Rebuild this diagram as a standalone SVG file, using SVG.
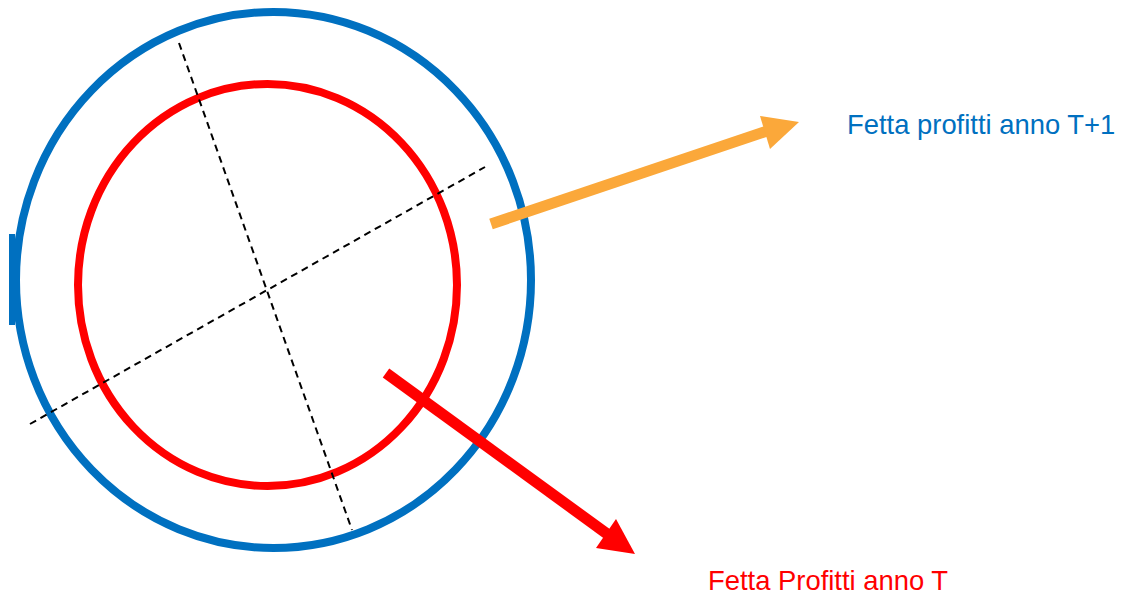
<svg xmlns="http://www.w3.org/2000/svg" width="1122" height="595" viewBox="0 0 1122 595">
<style>
.dash{stroke:#000;stroke-width:2;stroke-dasharray:7 5;fill:none}
.lbl{font-family:"Liberation Sans",Arial,sans-serif;font-size:27.4px}
</style>
<rect width="1122" height="595" fill="#fff"/>
<g id="outer-circle">
<ellipse cx="273.5" cy="280" rx="257.5" ry="268" fill="none" stroke="#0070C0" stroke-width="8"/>
<line x1="12" y1="234" x2="12" y2="325" stroke="#0070C0" stroke-width="6"/>
</g>
<g id="inner-circle">
<ellipse cx="267.5" cy="285" rx="189.5" ry="201" fill="none" stroke="#FF0000" stroke-width="8"/>
</g>
<g id="axes">
<line class="dash" x1="179" y1="43" x2="352" y2="530"/>
<line class="dash" x1="30" y1="424" x2="485" y2="167"/>
</g>
<g id="connectors">
<line x1="491" y1="224" x2="767" y2="131" stroke="#FBA83A" stroke-width="11"/>
<polygon points="799,122 760,116 770,149" fill="#FBA83A"/>
<line x1="386" y1="373" x2="610" y2="536" stroke="#FF0000" stroke-width="11"/>
<polygon points="635,554 616,519 596,548" fill="#FF0000"/>
</g>
<g id="label-t1">
<text class="lbl" x="847" y="134" fill="#0070C0">Fetta profitti anno T+1</text>
</g>
<g id="label-t">
<text class="lbl" x="708" y="590" fill="#FF0000">Fetta Profitti anno T</text>
</g>
</svg>
